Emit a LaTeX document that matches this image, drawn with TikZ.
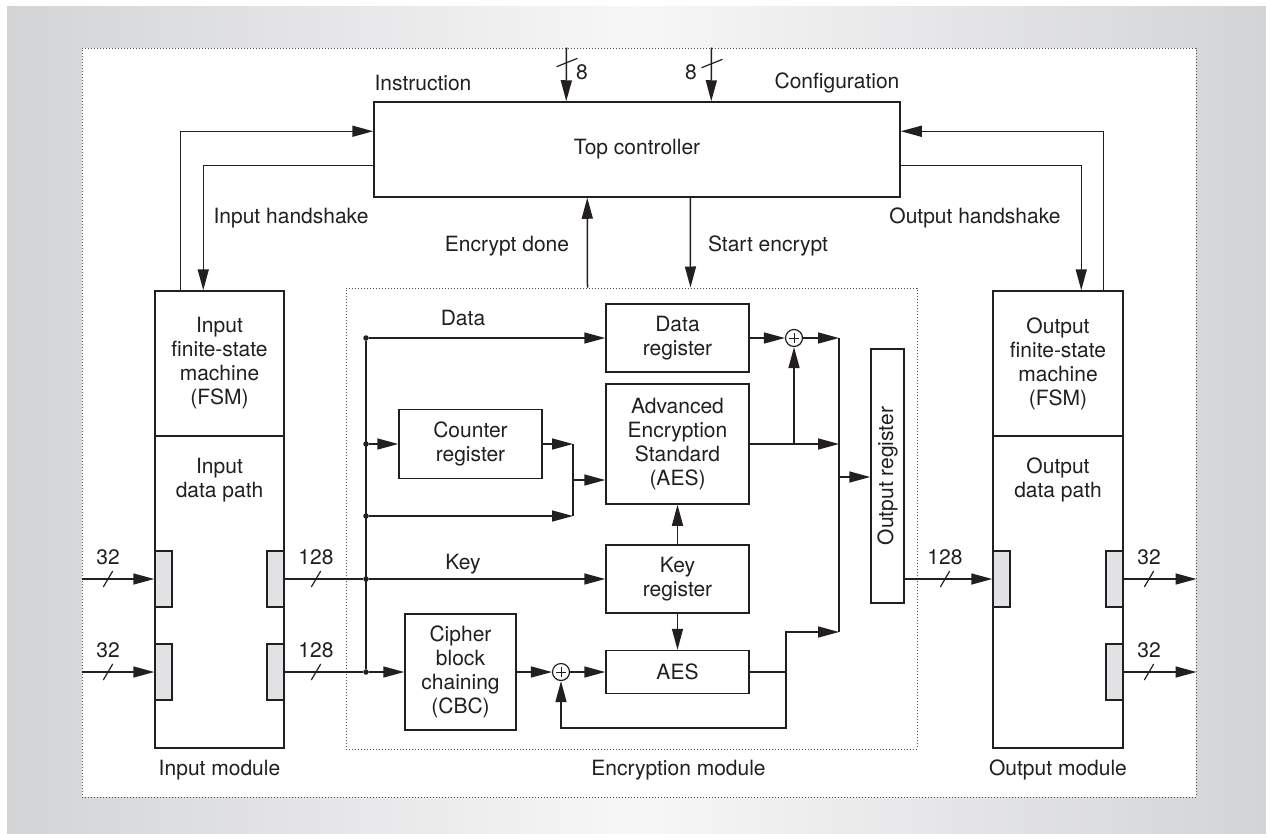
\documentclass[tikz,border=0pt]{standalone}
\usepackage{fontspec}
\setmainfont{TeX Gyre Heros}
\usetikzlibrary{arrows.meta,calc}

\definecolor{ink}{HTML}{231F20}
\definecolor{sidegray}{HTML}{D3D4D6}
\definecolor{midgray}{HTML}{F7F7F8}
\definecolor{portgray}{HTML}{E1E2E4}
\definecolor{dotgray}{HTML}{4A4A4A}

\tikzset{
  every node/.style={font=\fontsize{21}{24}\selectfont, text=ink},
  wire/.style={draw=ink, line width=1.5pt},
  arr/.style={wire, -{Triangle[length=21pt,width=11pt]}},
  block/.style={draw=ink, line width=1.5pt, fill=white, inner sep=0pt, align=center},
  port/.style={draw=ink, line width=1.5pt, fill=portgray, minimum width=17pt, minimum height=56pt, inner sep=0pt},
  xorgate/.style={circle, draw=ink, line width=1.2pt, fill=white, minimum size=17pt, inner sep=0pt},
  junction/.style={circle, fill=ink, minimum size=5.5pt, inner sep=0pt},
  frame/.style={draw=dotgray, line width=1pt, dash pattern=on 1pt off 2pt, inner sep=0pt},
  lbl/.style={inner sep=0pt, align=center},
  tick/.style={draw=ink, line width=1.2pt},
  hbus/.pic={\draw[tick] (-4.7,8) -- (4.7,-8);},
  vbus/.pic={\draw[tick] (-10.5,4.2) -- (10.5,-4.2);},
}

\begin{document}
\begin{tikzpicture}[x=1pt, y=-1pt]
\useasboundingbox (0,0) rectangle (1266,833);

% page background and board
\shade[left color=sidegray, right color=sidegray, middle color=midgray] (7,6) rectangle (1266,833);
\node[frame, fill=white, minimum width=1114pt, minimum height=749pt] (board) at (639,422.5) {};

% top controller
\node[block, minimum width=526pt, minimum height=95pt] (top) at (637,149.5) {Top controller};

% input module
\node[block, minimum width=129pt, minimum height=312pt] (indp) at (219.5,592) {};
\node[block, minimum width=129pt, minimum height=145pt] (infsm) at (219.5,363.5) {Input\\finite-state\\machine\\(FSM)};
\node[lbl] (indptxt) at (219.5,480) {Input\\data path};
\node[port] (inL1) at (163.5,579) {};
\node[port] (inL2) at (163.5,672) {};
\node[port] (inR1) at (275.5,579) {};
\node[port] (inR2) at (275.5,672) {};
\node[lbl] (inname) at (219.5,770) {Input module};

% output module
\node[block, minimum width=130pt, minimum height=312pt] (outdp) at (1058,592) {};
\node[block, minimum width=130pt, minimum height=145pt] (outfsm) at (1058,363.5) {Output\\finite-state\\machine\\(FSM)};
\node[lbl] (outdptxt) at (1058,480) {Output\\data path};
\node[port] (outL1) at (1001.5,579) {};
\node[port] (outR1) at (1114.5,579) {};
\node[port] (outR2) at (1114.5,672) {};
\node[lbl] (outname) at (1058,770) {Output module};

% encryption module
\node[frame, minimum width=571pt, minimum height=461pt] (enc) at (631.5,518.5) {};
\node[lbl] (encname) at (678.5,770) {Encryption module};
\node[block, minimum width=143pt, minimum height=68pt] (datareg) at (677.5,338) {Data\\register};
\node[block, minimum width=143pt, minimum height=120pt] (aes) at (677.5,444) {Advanced\\Encryption\\Standard\\(AES)};
\node[block, minimum width=143pt, minimum height=69pt] (counter) at (470.5,444) {Counter\\register};
\node[block, minimum width=143pt, minimum height=68pt] (keyreg) at (677.5,579) {Key\\register};
\node[block, minimum width=143pt, minimum height=43pt] (aes2) at (677.5,672) {AES};
\node[block, minimum width=111pt, minimum height=116pt] (cbc) at (460.5,672) {Cipher\\block\\chaining\\(CBC)};
\node[block, minimum width=33pt, minimum height=254pt] (outreg) at (887.5,476) {};
\node[rotate=90] (outregtxt) at (outreg) {Output register};
\node[xorgate] (xor1) at (794,338) {};
\node[xorgate] (xor2) at (561,672) {};
\foreach \g in {xor1,xor2}{
  \draw[ink, line width=1pt] ($(\g)+(-5,0)$) -- ($(\g)+(5,0)$) ($(\g)+(0,-5)$) -- ($(\g)+(0,5)$);
}

% input bus junctions
\node[junction] (j1) at (366,338) {};
\node[junction] (j2) at (366,444) {};
\node[junction] (j3) at (366,516) {};
\node[junction] (j4) at (366,579) {};
\node[junction] (j5) at (366,672) {};

% helper points
\coordinate (mg) at (573,444);
\coordinate (mgb) at (573,516);
\coordinate (mgm) at (573,480);
\coordinate (ct) at (839,338);
\coordinate (cb) at (839,632);
\coordinate (om) at (839,477);
\coordinate (fbn) at (786,672);
\coordinate (fbl) at (561,728);

% controller links
\draw[arr] ($(board.north west)+(485,0)$) -- ($(top.north west)+(193,0)$);
\draw[arr] ($(board.north west)+(630,0)$) -- ($(top.north west)+(338,0)$);
\pic at (567,62.5) {vbus};
\pic at (712,63.5) {vbus};
\node[lbl] (n8a) at (582,72) {8};
\node[lbl] (n8b) at (691,72) {8};
\node[lbl] (instr) at (423,83) {Instruction};
\node[lbl] (config) at (837,83) {Configuration};

\draw[arr] ($(infsm.north west)+(26,0)$) |- ($(top.north west)+(0,30)$);
\draw[arr] ($(top.north west)+(0,64)$) -| ($(infsm.north west)+(49,0)$);
\draw[arr] ($(outfsm.north west)+(111,0)$) |- ($(top.north east)+(0,30)$);
\draw[arr] ($(top.north east)+(0,64)$) -| ($(outfsm.north west)+(89,0)$);
\node[lbl] (inhs) at (291,218) {Input handshake};
\node[lbl] (ouths) at (975,218) {Output handshake};

\draw[arr] ($(enc.north west)+(242,0)$) -- ($(top.south west)+(214,0)$);
\draw[arr] ($(top.south west)+(317,0)$) -- ($(enc.north west)+(345,0)$);
\node[lbl] (edone) at (507,246) {Encrypt done};
\node[lbl] (estart) at (768,246) {Start encrypt};

% external inputs
\draw[arr] (inL1.west -| board.west) -- (inL1.west);
\draw[arr] (inL2.west -| board.west) -- (inL2.west);
\pic at (108,579) {hbus};
\pic at (108,672) {hbus};
\node[lbl] (w32a) at (108,557) {32};
\node[lbl] (w32b) at (108,650) {32};

% input data path to encryption module
\draw[wire] (inR1.east) -- (j4);
\draw[wire] (inR2.east) -- (j5);
\pic at (316,579) {hbus};
\pic at (316,672) {hbus};
\node[lbl] (w128a) at (316,557) {128};
\node[lbl] (w128b) at (316,650) {128};
\draw[wire] (j1) -- (j5);

\draw[arr] (j1) -- (datareg.west);
\node[lbl] (datal) at (463,318) {Data};
\draw[arr] (j2) -- (counter.west);
\draw[arr] (counter.east) -- (mg);
\draw[arr] (j3) -- (mgb);
\draw[wire] (mg) -- (mgb);
\draw[arr] (mgm) -- (mgm -| aes.west);
\draw[arr] (j4) -- (keyreg.west);
\node[lbl] (keyl) at (463,564) {Key};
\draw[arr] (j5) -- (cbc.west);

\draw[arr] (keyreg.north) -- (aes.south);
\draw[arr] (keyreg.south) -- (aes2.north);
\draw[arr] (cbc.east) -- (xor2.west);
\draw[arr] (xor2.east) -- (aes2.west);

\draw[arr] (datareg.east) -- (xor1.west);
\draw[arr] (xor1.east) -- (ct);
\draw[arr] (aes.east) -- (aes.east -| ct);
\draw[arr] (aes.east -| xor1) -- (xor1.south);
\draw[wire] (ct) -- (cb);
\draw[wire] (aes2.east) -- (fbn);
\draw[arr] (fbn) |- (cb);
\draw[arr] (fbn) |- (fbl) -- (xor2.south);
\draw[arr] (om) -- (om -| outreg.west);

% output side
\draw[arr] (outreg.east |- outL1) -- (outL1.west);
\pic at (945,579) {hbus};
\node[lbl] (w128c) at (945,557) {128};
\draw[arr] (outR1.east) -- (outR1.east -| board.east);
\draw[arr] (outR2.east) -- (outR2.east -| board.east);
\pic at (1149,579) {hbus};
\pic at (1149,672) {hbus};
\node[lbl] (w32c) at (1149,557) {32};
\node[lbl] (w32d) at (1149,650) {32};
\end{tikzpicture}
\end{document}
